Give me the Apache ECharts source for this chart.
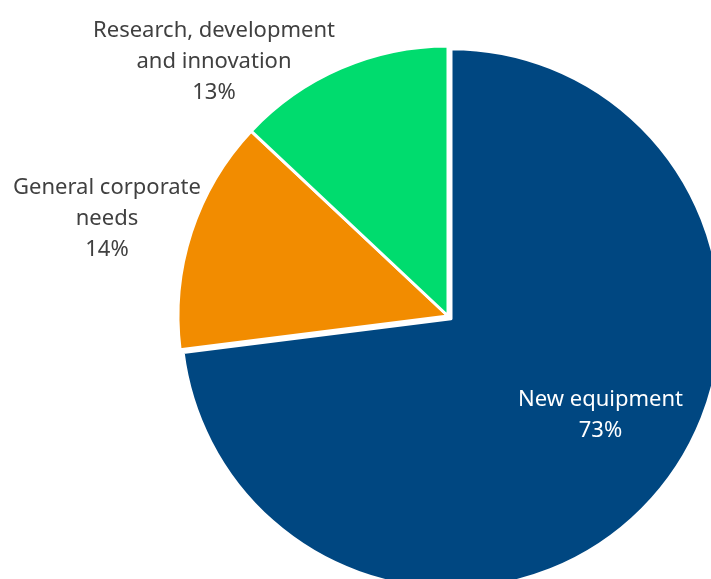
<!DOCTYPE html>
<html>
<head>
<meta charset="utf-8">
<script src="https://cdn.jsdelivr.net/npm/echarts@6/dist/echarts.min.js"></script>
<style>
html,body{margin:0;padding:0;background:#fff;}
#chart{width:711px;height:579px;}
</style>
</head>
<body>
<div id="chart"></div>
<script>
const categories = ['New equipment', 'General corporate needs', 'Research, development and innovation'];
const labelTexts = ['New equipment', 'General corporate\nneeds', 'Research, development\nand innovation'];
const values = [73, 14, 13];
const colors = ['#004781', '#F28C00', '#00DC6E'];

// outside label anchor points (text centers) in px
const labelAnchors = [null, [107, 219], [214, 62]];

const chart = echarts.init(document.getElementById('chart'), null, {renderer: 'canvas'});
const data = categories.map((c, i) => ({
  name: c,
  value: values[i],
  selected: i === 0,
  itemStyle: {color: colors[i]},
  label: i === 0
    ? {position: 'inside', color: '#ffffff'}
    : {position: 'outside', color: '#404040'}
}));

chart.setOption({
  animation: false,
  series: [{
    type: 'pie',
    center: [448, 316],
    radius: 270,
    startAngle: 90,
    clockwise: true,
    selectedMode: 'single',
    selectedOffset: 4,
    avoidLabelOverlap: false,
    emphasis: {disabled: true},
    itemStyle: {borderColor: '#ffffff', borderWidth: 3},
    label: {
      show: true,
      fontFamily: 'Noto Sans, sans-serif',
      fontSize: 22,
      lineHeight: 31,
      align: 'center',
      overflow: 'none',
      formatter: p => labelTexts[p.dataIndex] + '\n' + Math.round(p.percent) + '%'
    },
    labelLine: {show: false},
    labelLayout: function (params) {
      const a = labelAnchors[params.dataIndex];
      if (!a) return {dx: 46, dy: 5};
      return {x: a[0], y: a[1], align: 'center', verticalAlign: 'middle'};
    },
    data: data
  }]
});
</script>
</body>
</html>
